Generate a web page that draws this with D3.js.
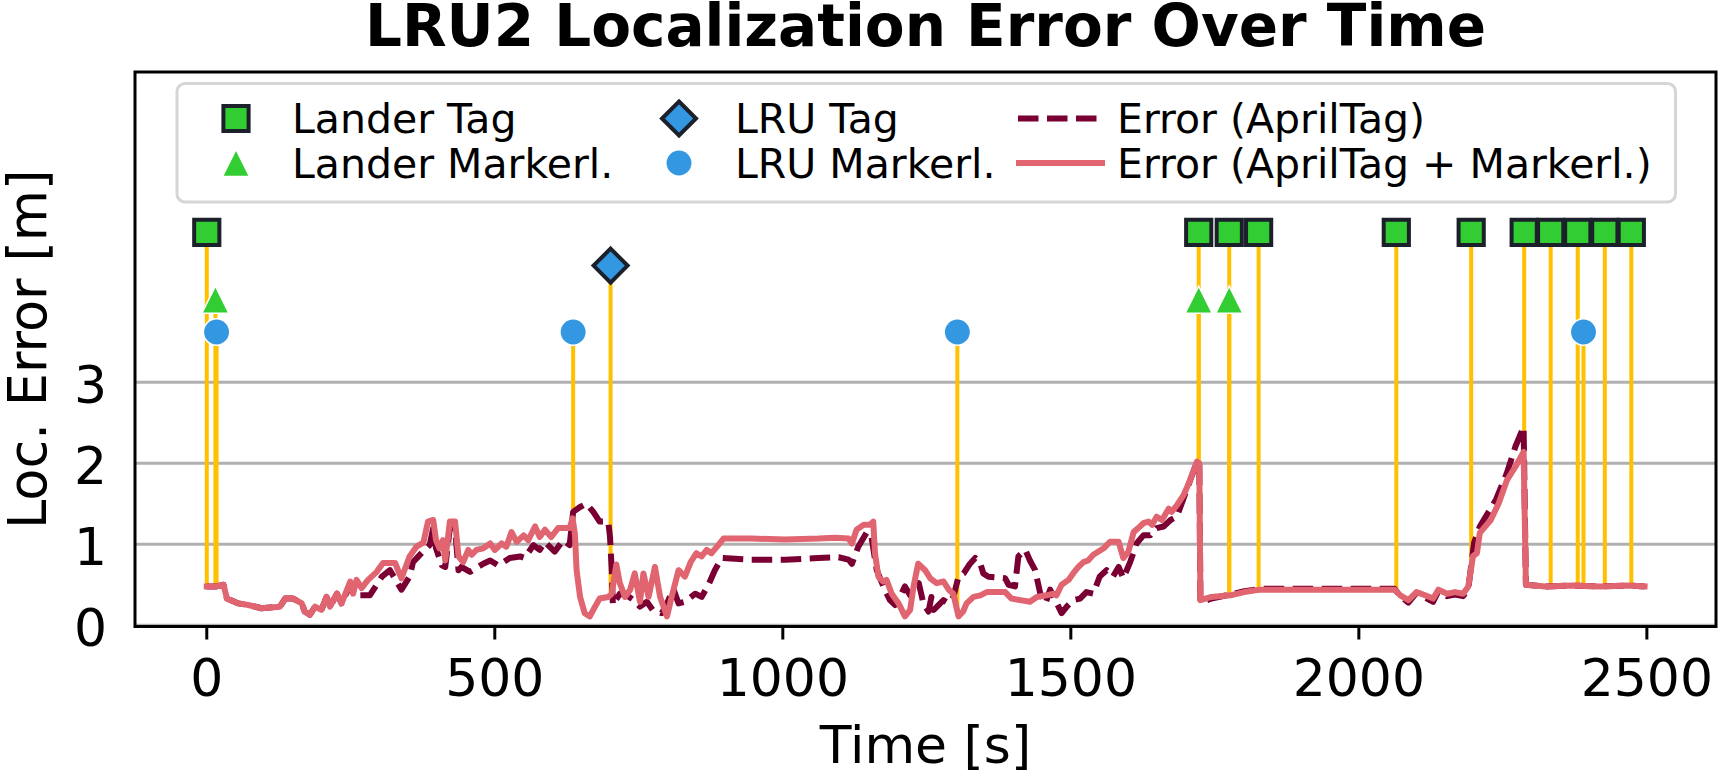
<!DOCTYPE html>
<html>
<head>
<meta charset="utf-8">
<script src="https://cdn.jsdelivr.net/npm/d3@7"></script>
<style>
  html, body { margin: 0; padding: 0; background: #fff; }
  svg { display: block; font-family: "DejaVu Sans", sans-serif; }
</style>
</head>
<body>
<svg id="chart"></svg>
<script>
// error over time, AprilTag only (dashed)
const aprilT = [0, 17, 29, 35, 55, 72, 95, 127, 136, 150, 165, 170, 179, 188, 199, 208, 214, 226, 234, 249,
  257, 269, 283, 304, 318, 338, 352, 358, 378, 387, 393, 398, 408, 414, 422, 431, 437, 442, 457, 480,
  492, 506, 526, 544, 552, 567, 578, 587, 604, 619, 630, 636, 648, 659, 671, 682, 697, 700, 703, 705,
  717, 729, 741, 752, 764, 776, 790, 799, 810, 819, 830, 848, 859, 871, 882, 894, 946, 1004, 1062, 1097,
  1114, 1120, 1131, 1146, 1154, 1163, 1177, 1186, 1195, 1203, 1212, 1221, 1236, 1244, 1253, 1258, 1262, 1279, 1288, 1296,
  1305, 1314, 1325, 1334, 1343, 1348, 1357, 1386, 1392, 1403, 1409, 1421, 1429, 1438, 1447, 1456, 1464, 1473, 1484, 1493,
  1504, 1516, 1527, 1539, 1550, 1562, 1573, 1583, 1591, 1603, 1614, 1626, 1638, 1649, 1661, 1673, 1684, 1701, 1719, 1723,
  1725, 1744, 1777, 1801, 1829, 1896, 1991, 2062, 2072, 2086, 2100, 2115, 2129, 2138, 2153, 2167, 2181, 2190, 2200, 2210,
  2238, 2257, 2272, 2286, 2290, 2324, 2371, 2419, 2467, 2496];
const aprilErr = [0.48, 0.48, 0.50, 0.33, 0.27, 0.25, 0.21, 0.23, 0.33, 0.33, 0.27, 0.17, 0.13, 0.23, 0.19, 0.35, 0.23, 0.39, 0.27, 0.50,
  0.37, 0.37, 0.37, 0.60, 0.68, 0.44, 0.60, 0.78, 0.93, 0.99, 1.20, 0.95, 0.74, 0.72, 1.20, 1.20, 0.68, 0.72, 0.66, 0.76,
  0.80, 0.74, 0.83, 0.85, 0.83, 0.99, 0.93, 1.03, 0.91, 1.05, 0.99, 1.40, 1.46, 1.50, 1.40, 1.28, 1.28, 1.09, 0.68, 0.25,
  0.39, 0.37, 0.31, 0.23, 0.29, 0.17, 0.15, 0.27, 0.45, 0.27, 0.29, 0.39, 0.35, 0.50, 0.68, 0.83, 0.81, 0.81, 0.83, 0.84,
  0.81, 0.76, 0.97, 1.15, 1.09, 0.68, 0.44, 0.31, 0.25, 0.35, 0.48, 0.37, 0.52, 0.27, 0.17, 0.35, 0.19, 0.31, 0.27, 0.35,
  0.60, 0.64, 0.76, 0.83, 0.76, 0.64, 0.60, 0.58, 0.50, 0.48, 0.85, 0.93, 0.80, 0.68, 0.39, 0.27, 0.44, 0.31, 0.15, 0.23,
  0.31, 0.33, 0.41, 0.39, 0.60, 0.68, 0.60, 0.72, 0.58, 0.78, 1.01, 1.11, 1.11, 1.20, 1.22, 1.30, 1.34, 1.67, 2.02, 2.00,
  0.28, 0.33, 0.38, 0.42, 0.45, 0.45, 0.45, 0.45, 0.36, 0.28, 0.40, 0.34, 0.29, 0.42, 0.36, 0.38, 0.36, 0.45, 1.02, 1.22,
  1.55, 1.88, 2.21, 2.45, 0.50, 0.48, 0.49, 0.48, 0.49, 0.48];

// error over time, AprilTag + Markerl. (solid)
const fusedT = [0, 17, 29, 35, 55, 72, 95, 127, 136, 150, 165, 170, 179, 188, 199, 208, 214, 226, 234, 249,
  254, 260, 269, 280, 295, 306, 327, 332, 338, 352, 364, 376, 384, 393, 398, 404, 410, 414, 422, 431,
  437, 445, 454, 460, 468, 480, 492, 500, 512, 520, 529, 538, 550, 558, 570, 578, 587, 598, 610, 630,
  635, 639, 642, 648, 656, 665, 674, 682, 697, 703, 711, 717, 726, 735, 743, 752, 758, 767, 778, 787,
  799, 807, 819, 830, 840, 850, 859, 868, 876, 888, 897, 946, 1004, 1062, 1091, 1114, 1120, 1128, 1140, 1151,
  1157, 1160, 1166, 1174, 1180, 1189, 1201, 1212, 1221, 1227, 1235, 1247, 1256, 1267, 1279, 1288, 1296, 1305, 1313, 1319,
  1331, 1343, 1354, 1386, 1397, 1412, 1429, 1441, 1458, 1470, 1475, 1484, 1496, 1504, 1513, 1522, 1530, 1539, 1548, 1557,
  1568, 1583, 1591, 1600, 1609, 1617, 1626, 1635, 1641, 1649, 1658, 1670, 1675, 1684, 1696, 1707, 1719, 1723, 1725, 1744,
  1777, 1801, 1829, 1896, 1991, 2062, 2072, 2086, 2100, 2115, 2129, 2138, 2153, 2167, 2181, 2190, 2198, 2205, 2210, 2229,
  2243, 2257, 2272, 2286, 2290, 2324, 2371, 2419, 2467, 2496];
const fusedErr = [0.48, 0.48, 0.50, 0.33, 0.27, 0.25, 0.21, 0.23, 0.33, 0.33, 0.27, 0.17, 0.13, 0.23, 0.19, 0.35, 0.23, 0.39, 0.27, 0.54,
  0.39, 0.56, 0.46, 0.56, 0.66, 0.77, 0.77, 0.68, 0.58, 0.85, 0.97, 1.02, 1.28, 1.30, 1.05, 0.95, 1.05, 0.80, 1.28, 1.28,
  0.85, 0.78, 0.93, 0.87, 0.93, 0.95, 1.01, 0.93, 1.01, 0.97, 1.15, 1.03, 1.11, 1.05, 1.22, 1.09, 1.18, 1.09, 1.20, 1.20,
  1.32, 1.13, 0.68, 0.35, 0.15, 0.11, 0.23, 0.33, 0.35, 0.39, 0.75, 0.52, 0.35, 0.44, 0.64, 0.29, 0.64, 0.35, 0.72, 0.35,
  0.11, 0.35, 0.68, 0.60, 0.78, 0.89, 0.85, 0.93, 0.89, 0.99, 1.07, 1.07, 1.06, 1.07, 1.08, 1.07, 1.01, 1.18, 1.24, 1.24,
  1.28, 0.89, 0.60, 0.54, 0.56, 0.39, 0.27, 0.11, 0.19, 0.48, 0.76, 0.68, 0.58, 0.52, 0.54, 0.44, 0.39, 0.11, 0.17, 0.27,
  0.35, 0.37, 0.41, 0.41, 0.33, 0.31, 0.29, 0.35, 0.37, 0.39, 0.37, 0.50, 0.56, 0.64, 0.72, 0.78, 0.80, 0.87, 0.91, 0.95,
  1.03, 1.03, 0.83, 0.91, 1.15, 1.20, 1.26, 1.28, 1.24, 1.34, 1.30, 1.44, 1.40, 1.48, 1.61, 1.79, 2.02, 2.00, 0.31, 0.35,
  0.37, 0.41, 0.44, 0.44, 0.44, 0.44, 0.37, 0.31, 0.41, 0.37, 0.33, 0.44, 0.39, 0.41, 0.39, 0.48, 0.85, 0.89, 1.14, 1.30,
  1.51, 1.79, 1.96, 2.14, 0.50, 0.48, 0.49, 0.48, 0.49, 0.48];

// detection events [s] and the height of their markers [m]
const landerTagT = [0, 1722, 1775, 1826, 2065, 2195, 2287, 2333, 2380, 2427, 2473];
const landerMarkerT = [15, 1722, 1775];
const lruTagT = [701];
const lruMarkerT = [17, 636, 1303, 2390];
const landerTagLevel = 4.85;
const lruTagLevel = 4.44;
const landerMarkerLevel = 4.02;
const lruMarkerLevel = 3.62;

const xTicks = [0, 500, 1000, 1500, 2000, 2500];
const yTicks = [0, 1, 2, 3];

const W = 1720, H = 780;
const C = {
  tag: "#32cd32", blue: "#3497e1", edge: "#1c202b", stem: "#ffc000",
  april: "#7a0033", fused: "#e06570", grid: "#b0b0b0"
};
const LW = 6, DASH = "20.5,8.5";

const svg = d3.select("#chart").attr("width", W).attr("height", H);
svg.append("rect").attr("width", W).attr("height", H).attr("fill", "#fff");

const box = { left: 135, right: 1716, top: 72, bottom: 626.5 };
const x = d3.scaleLinear().domain([-124.6, 2620]).range([box.left, box.right]);
const y = d3.scaleLinear().domain([-0.015, 6.83]).range([box.bottom, box.top]);

svg.append("defs").append("clipPath").attr("id", "clip")
  .append("rect").attr("x", box.left).attr("y", box.top)
  .attr("width", box.right - box.left).attr("height", box.bottom - box.top);

// grid
svg.append("g").selectAll("line").data(yTicks).join("line")
  .attr("x1", box.left).attr("x2", box.right)
  .attr("y1", d => y(d)).attr("y2", d => y(d))
  .attr("stroke", C.grid).attr("stroke-width", 3);

const plot = svg.append("g").attr("clip-path", "url(#clip)");

// stem bottoms follow the fused error curve
const bis = d3.bisector(d => d).left;
function fusedAt(t) {
  const i = Math.min(Math.max(bis(fusedT, t), 1), fusedT.length - 1);
  const t0 = fusedT[i - 1], t1 = fusedT[i];
  const k = t1 === t0 ? 0 : (t - t0) / (t1 - t0);
  return fusedErr[i - 1] + (fusedErr[i] - fusedErr[i - 1]) * Math.max(0, Math.min(1, k));
}

const stems = []
  .concat(landerTagT.map(t => ({ t, top: landerTagLevel })))
  .concat(landerMarkerT.map(t => ({ t, top: landerMarkerLevel })))
  .concat(lruTagT.map(t => ({ t, top: lruTagLevel })))
  .concat(lruMarkerT.map(t => ({ t, top: lruMarkerLevel })));

plot.append("g").selectAll("line").data(stems).join("line")
  .attr("x1", d => x(d.t)).attr("x2", d => x(d.t))
  .attr("y1", d => y(fusedAt(d.t))).attr("y2", d => y(d.top))
  .attr("stroke", C.stem).attr("stroke-width", 4);

// error curves
const line = d3.line().x(d => x(d[0])).y(d => y(d[1]));
plot.append("path")
  .attr("d", line(d3.zip(aprilT, aprilErr)))
  .attr("fill", "none").attr("stroke", C.april).attr("stroke-width", LW)
  .attr("stroke-dasharray", DASH).attr("stroke-linejoin", "round");
plot.append("path")
  .attr("d", line(d3.zip(fusedT, fusedErr)))
  .attr("fill", "none").attr("stroke", C.fused).attr("stroke-width", LW)
  .attr("stroke-linejoin", "round").attr("stroke-linecap", "square");

// marker shapes
const shapes = {
  square: { d: "M-12.6,-12.6H12.6V12.6H-12.6Z", fill: C.tag, stroke: C.edge, sw: 4 },
  diamond: { d: "M0,-17L17,0L0,17L-17,0Z", fill: C.blue, stroke: C.edge, sw: 4 },
  triangle: { d: "M0,-13.5L13.5,13.5H-13.5Z", fill: C.tag, stroke: "#fff", sw: 1.5 },
  circle: { d: d3.symbol(d3.symbolCircle, Math.PI * 13.2 * 13.2)(), fill: C.blue, stroke: "#fff", sw: 1.5 }
};
function drawMarkers(g, times, level, s) {
  g.append("g").selectAll("path").data(times).join("path")
    .attr("transform", t => `translate(${x(t)},${y(level)})`)
    .attr("d", s.d).attr("fill", s.fill)
    .attr("stroke", s.stroke).attr("stroke-width", s.sw).attr("stroke-linejoin", "miter");
}
drawMarkers(svg, landerTagT, landerTagLevel, shapes.square);
drawMarkers(svg, landerMarkerT, landerMarkerLevel, shapes.triangle);
drawMarkers(svg, lruTagT, lruTagLevel, shapes.diamond);
drawMarkers(svg, lruMarkerT, lruMarkerLevel, shapes.circle);

// frame
svg.append("rect")
  .attr("x", box.left).attr("y", box.top)
  .attr("width", box.right - box.left).attr("height", box.bottom - box.top)
  .attr("fill", "none").attr("stroke", "#000").attr("stroke-width", 3);

// x axis
const xa = svg.append("g");
xa.selectAll("line").data(xTicks).join("line")
  .attr("x1", d => x(d)).attr("x2", d => x(d))
  .attr("y1", box.bottom).attr("y2", box.bottom + 13)
  .attr("stroke", "#000").attr("stroke-width", 3);
xa.selectAll("text").data(xTicks).join("text")
  .attr("x", d => x(d)).attr("y", 695.5)
  .attr("text-anchor", "middle").attr("font-size", 52)
  .text(d => d);

// y axis labels
svg.append("g").selectAll("text").data(yTicks).join("text")
  .attr("x", 107).attr("y", d => y(d) + 21)
  .attr("text-anchor", "end").attr("font-size", 52)
  .text(d => d);

svg.append("text")
  .attr("x", (box.left + box.right) / 2).attr("y", 763)
  .attr("text-anchor", "middle").attr("font-size", 52)
  .text("Time [s]");

svg.append("text")
  .attr("transform", `translate(46,${(box.top + box.bottom) / 2}) rotate(-90)`)
  .attr("text-anchor", "middle").attr("font-size", 52.5)
  .text("Loc. Error [m]");

svg.append("text")
  .attr("x", (box.left + box.right) / 2).attr("y", 46)
  .attr("text-anchor", "middle").attr("font-size", 58).attr("font-weight", "bold")
  .text("LRU2 Localization Error Over Time");

// legend
const legendLabels = ["Lander Tag", "Lander Markerl.", "LRU Tag", "LRU Markerl.",
  "Error (AprilTag)", "Error (AprilTag + Markerl.)"];
const lg = svg.append("g");
lg.append("rect")
  .attr("x", 177).attr("y", 83.5).attr("width", 1498.5).attr("height", 118.5)
  .attr("rx", 8).attr("fill", "#fff").attr("fill-opacity", 0.8)
  .attr("stroke", "#d6d6d6").attr("stroke-width", 3);

const rowY = [118.5, 163];
const items = [
  { mx: 236, tx: 292, row: 0, shape: shapes.square },
  { mx: 236, tx: 292, row: 1, shape: shapes.triangle },
  { mx: 679, tx: 735, row: 0, shape: shapes.diamond },
  { mx: 679, tx: 735, row: 1, shape: shapes.circle },
  { mx: 1060, tx: 1117, row: 0, dash: true },
  { mx: 1060, tx: 1117, row: 1, dash: false }
];
items.forEach((it, i) => {
  const cy = rowY[it.row];
  if (it.shape) {
    lg.append("path").attr("transform", `translate(${it.mx},${cy})`)
      .attr("d", it.shape.d).attr("fill", it.shape.fill)
      .attr("stroke", it.shape.stroke).attr("stroke-width", it.shape.sw);
  } else {
    lg.append("line")
      .attr("x1", it.dash ? 1018 : 1016).attr("x2", it.dash ? 1103 : 1105)
      .attr("y1", cy).attr("y2", cy)
      .attr("stroke", it.dash ? C.april : C.fused).attr("stroke-width", LW)
      .attr("stroke-dasharray", it.dash ? DASH : null);
  }
  lg.append("text").attr("x", it.tx).attr("y", cy + 14.5)
    .attr("font-size", 41).text(legendLabels[i]);
});
</script>
</body>
</html>
